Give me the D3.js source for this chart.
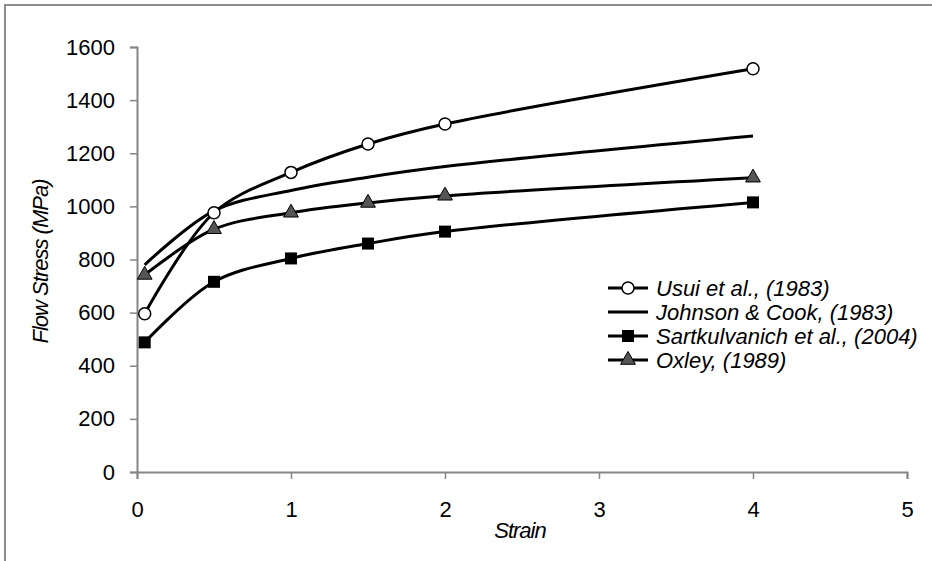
<!DOCTYPE html>
<html>
<head>
<meta charset="utf-8">
<script src="https://cdn.jsdelivr.net/npm/d3@7"></script>
<style>
  body { margin: 0; background: #fff; }
  text { font-family: "Liberation Sans", Arial, sans-serif; fill: #000; }
</style>
</head>
<body>
<div id="chart"></div>
<script>
// Declare constants
const FRAME_WIDTH = 932;
const FRAME_HEIGHT = 561;
const MARGINS = {left: 137, right: 25, top: 47, bottom: 89};

const VIS_WIDTH = FRAME_WIDTH - MARGINS.left - MARGINS.right;
const VIS_HEIGHT = FRAME_HEIGHT - MARGINS.top - MARGINS.bottom;

// Data
const strain = [0.05, 0.5, 1, 1.5, 2, 4];
const usui = [596, 976, 1128, 1235, 1310, 1518];
const johnsonCook = [780, 983, 1060, 1110, 1150, 1265];
const sartkulvanich = [488, 716, 804, 860, 905, 1015];
const oxley = [742, 914, 976, 1013, 1040, 1108];

const seriesNames = ["Usui et al., (1983)", "Johnson & Cook, (1983)",
                     "Sartkulvanich et al., (2004)", "Oxley, (1989)"];
const seriesValues = [usui, johnsonCook, sartkulvanich, oxley];
const seriesMarkers = ["circle", "none", "square", "triangle"];

const xTicks = [0, 1, 2, 3, 4, 5];
const yTicks = [0, 200, 400, 600, 800, 1000, 1200, 1400, 1600];

const FONT = 22;

const FRAME = d3.select("#chart")
                .append("svg")
                  .attr("width", FRAME_WIDTH)
                  .attr("height", FRAME_HEIGHT);

// outer chart border (cut off at right and bottom)
FRAME.append("rect")
      .attr("x", 5).attr("y", 5)
      .attr("width", FRAME_WIDTH + 20).attr("height", FRAME_HEIGHT + 20)
      .attr("fill", "none")
      .attr("stroke", "#8c8c8c")
      .attr("stroke-width", 2);

const X_SCALE = d3.scaleLinear().domain([0, 5]).range([0, VIS_WIDTH]);
const Y_SCALE = d3.scaleLinear().domain([0, 1600]).range([VIS_HEIGHT, 0]);

const G = FRAME.append("g")
                .attr("transform", `translate(${MARGINS.left},${MARGINS.top})`);

// axes
const xAxis = G.append("g")
    .attr("transform", `translate(0,${VIS_HEIGHT})`)
    .call(d3.axisBottom(X_SCALE).tickValues(xTicks).tickSize(7).tickPadding(22)
            .tickFormat(d3.format("d")));
const yAxis = G.append("g")
    .call(d3.axisLeft(Y_SCALE).tickValues(yTicks).tickSize(7).tickPadding(15)
            .tickFormat(d3.format("d")));

[xAxis, yAxis].forEach(a => {
  a.select(".domain").attr("stroke", "#868686").attr("stroke-width", 2);
  a.selectAll(".tick line").attr("stroke", "#868686").attr("stroke-width", 1.5);
  a.selectAll(".tick text").attr("font-size", FONT)
    .attr("font-family", "'Liberation Sans', Arial, sans-serif")
    .attr("fill", "#000");
});

// axis titles
G.append("text")
  .attr("x", VIS_WIDTH / 2 - 2)
  .attr("y", VIS_HEIGHT + 66)
  .attr("text-anchor", "middle")
  .attr("font-size", FONT)
  .attr("font-style", "italic")
  .attr("letter-spacing", -1)
  .text("Strain");

G.append("text")
  .attr("transform", `translate(${-89},${VIS_HEIGHT / 2 + 2}) rotate(-90)`)
  .attr("text-anchor", "middle")
  .attr("font-size", FONT)
  .attr("font-style", "italic")
  .attr("letter-spacing", -1)
  .text("Flow Stress (MPa)");

// lines
const line = d3.line()
    .x((d, i) => X_SCALE(strain[i]))
    .y(d => Y_SCALE(d))
    .curve(d3.curveCatmullRom.alpha(0.5));

G.selectAll(".series")
  .data(seriesValues)
  .enter()
  .append("path")
    .attr("class", "series")
    .attr("d", line)
    .attr("fill", "none")
    .attr("stroke", "#000")
    .attr("stroke-width", 3);

// markers
function drawMarker(sel, type, x, y) {
  if (type === "circle") {
    sel.append("circle").attr("cx", x).attr("cy", y).attr("r", 6)
       .attr("fill", "#fff").attr("stroke", "#000").attr("stroke-width", 1.5);
  } else if (type === "square") {
    sel.append("rect").attr("x", x - 6).attr("y", y - 6)
       .attr("width", 12).attr("height", 12).attr("fill", "#000");
  } else if (type === "triangle") {
    sel.append("path")
       .attr("d", d3.symbol().type(d3.symbolTriangle).size(95)())
       .attr("transform", `translate(${x},${y})`)
       .attr("fill", "#555").attr("stroke", "#000").attr("stroke-width", 1);
  }
}

seriesValues.forEach((vals, s) => {
  vals.forEach((v, i) => drawMarker(G, seriesMarkers[s], X_SCALE(strain[i]), Y_SCALE(v)));
});

// legend
const LEG_X = 608, LEG_Y = 288, LEG_STEP = 24;
seriesNames.forEach((name, s) => {
  const y = LEG_Y + s * LEG_STEP;
  FRAME.append("line")
       .attr("x1", LEG_X).attr("x2", LEG_X + 40)
       .attr("y1", y).attr("y2", y)
       .attr("stroke", "#000").attr("stroke-width", 3);
  drawMarker(FRAME, seriesMarkers[s], LEG_X + 20, y);
  FRAME.append("text")
       .attr("x", LEG_X + 48).attr("y", y + 8)
       .attr("font-size", FONT)
       .attr("font-style", "italic")
       .text(name);
});
</script>
</body>
</html>
